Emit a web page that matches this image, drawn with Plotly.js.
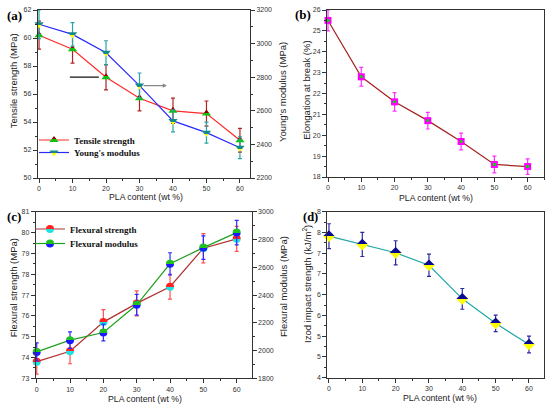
<!DOCTYPE html>
<html>
<head>
<meta charset="utf-8">
<script src="https://cdn.plot.ly/plotly-3.0.1.min.js"></script>
<style>html,body{margin:0;padding:0;background:#fff;}#chart{width:550px;height:407px;}</style>
</head>
<body>
<div id="chart"></div>
<script>
// ---- data ----
var pla = [0, 10, 20, 30, 40, 50, 60];
var tensileStrength = [60.2, 59.2, 57.2, 55.7, 54.8, 54.6, 52.7];
var tensileErr = [1.0, 1.0, 0.9, 0.9, 0.9, 0.9, 0.85];
var youngsModulus = [3115, 3055, 2945, 2750, 2540, 2470, 2380];
var youngsErr = [85, 70, 72, 75, 65, 62, 65];
var elongation = [25.5, 22.8, 21.6, 20.7, 19.7, 18.6, 18.5];
var elongErr = [0.5, 0.45, 0.44, 0.4, 0.4, 0.4, 0.37];
var flexStrength = [73.8, 74.3, 75.7, 76.6, 77.4, 79.25, 79.7];
var flexStrengthErr = [0.6, 0.6, 0.6, 0.6, 0.6, 0.7, 0.6];
var flexModulus = [1990, 2075, 2130, 2330, 2625, 2742, 2850];
var flexModulusErr = [65, 60, 60, 75, 80, 85, 88];
var impact = [7.41, 7.21, 7.01, 6.71, 5.90, 5.31, 4.80];
var impactErr = [0.3, 0.29, 0.29, 0.27, 0.25, 0.2, 0.2];
var impactTickVals = [4, 4.5, 5, 5.5, 6, 6.5, 7, 7.5, 8];
var impactTickText = ["4", "5", "5", "6", "6", "7", "7", "8", "8"];

var W = 550, H = 407;
function px(x) { return x / W; }
function py(y) { return 1 - y / H; }

function err(arr, color) {
  return {type: 'data', array: arr, visible: true, color: color, thickness: 1.2, width: 2};
}

var traces = [
  {x: pla, y: tensileStrength, xaxis: 'x', yaxis: 'y', mode: 'lines+markers', name: 'Tensile strength',
   legend: 'legend', cliponaxis: false,
   line: {color: '#ff2a2a', width: 1.2},
   marker: {symbol: 'triangle-up', size: 8, color: '#8b0000', gradient: {type: 'vertical', color: '#10c010'}, line: {width: 0}},
   error_y: err(tensileErr, '#b22222')},
  {x: pla, y: youngsModulus, xaxis: 'x', yaxis: 'y2', mode: 'lines+markers', name: "Young's modulus",
   legend: 'legend3', cliponaxis: false,
   line: {color: '#2a2aff', width: 1.2},
   marker: {symbol: 'triangle-down', size: 8, color: '#138a8a', gradient: {type: 'vertical', color: '#ffff00'}, line: {width: 0}},
   error_y: err(youngsErr, '#2aa5a5')},
  {x: pla, y: elongation, xaxis: 'x2', yaxis: 'y3', mode: 'lines+markers', showlegend: false, cliponaxis: false,
   line: {color: '#a52020', width: 1.2},
   marker: {symbol: 'square', size: 7, color: '#ff00ff', gradient: {type: 'radial', color: '#10d010'}, line: {width: 0}},
   error_y: err(elongErr, '#ff30ff')},
  {x: pla, y: flexStrength, xaxis: 'x3', yaxis: 'y4', mode: 'lines+markers', name: 'Flexural strength',
   legend: 'legend2', cliponaxis: false,
   line: {color: '#b03030', width: 1.2},
   marker: {symbol: 'circle', size: 8, color: '#ff2020', gradient: {type: 'vertical', color: '#20e0e0'}, line: {width: 0}},
   error_y: err(flexStrengthErr, '#ff5050')},
  {x: pla, y: flexModulus, xaxis: 'x3', yaxis: 'y5', mode: 'lines+markers', name: 'Flexural modulus',
   legend: 'legend4', cliponaxis: false,
   line: {color: '#20a020', width: 1.2},
   marker: {symbol: 'circle', size: 8, color: '#20c020', gradient: {type: 'vertical', color: '#1a1aff'}, line: {width: 0}},
   error_y: err(flexModulusErr, '#2a2aff')},
  {x: pla, y: impact, xaxis: 'x4', yaxis: 'y6', mode: 'lines+markers', showlegend: false, cliponaxis: false,
   line: {color: '#20a8a8', width: 1.2},
   marker: {symbol: 'diamond', size: 9, color: '#0a0a90', gradient: {type: 'vertical', color: '#ffff00'}, line: {width: 0}},
   error_y: err(impactErr, '#2a2aa5')}
];

var tickFont = {family: 'Liberation Sans, Arial, sans-serif', size: 7, color: '#333'};
function xax(domain, range, anchor) {
  return {domain: domain, range: range, anchor: anchor, dtick: 10, tick0: 0,
    ticks: 'outside', ticklen: 4, tickwidth: 1, tickcolor: '#333',
    minor: {dtick: 5, ticklen: 2, ticks: 'outside', tickcolor: '#333'},
    showline: true, linecolor: '#333', linewidth: 1, mirror: true,
    showgrid: false, zeroline: false, tickfont: tickFont, fixedrange: true};
}
function yax(domain, range, anchor, dtick, minor, mirror) {
  return {domain: domain, range: range, anchor: anchor, dtick: dtick,
    ticks: 'outside', ticklen: 4, tickwidth: 1, tickcolor: '#333',
    minor: {dtick: minor, ticklen: 2, ticks: 'outside', tickcolor: '#333'},
    showline: true, linecolor: '#333', linewidth: 1, mirror: mirror,
    showgrid: false, zeroline: false, tickfont: tickFont, fixedrange: true};
}

var dA = {x: [px(37.7), px(250)], y: [py(178), py(10)]};
var dB = {x: [px(327), px(544.3)], y: [py(177), py(10)]};
var dC = {x: [px(35.7), px(251.7)], y: [py(378.3), py(211.8)]};
var dD = {x: [px(327.3), px(544.3)], y: [py(377.7), py(211.7)]};

var y2 = yax(dA.y, [2200, 3200], 'x', 200, 100, false);
y2.overlaying = 'y'; y2.side = 'right';
var y5 = yax(dC.y, [1800, 3000], 'x3', 200, 100, false);
y5.overlaying = 'y4'; y5.side = 'right';
var y6 = yax(dD.y, [4, 8], 'x4', 0.5, 0.25, true);
y6.tickmode = 'array'; y6.tickvals = impactTickVals; y6.ticktext = impactTickText;
y6.minor = {tickmode: 'linear', tick0: 4, dtick: 0.25, ticklen: 2, ticks: 'outside', tickcolor: '#333'};

var titleFont = {family: 'Liberation Sans, Arial, sans-serif', size: 9.5, color: '#222'};
var xTitleFont = {family: 'Liberation Sans, Arial, sans-serif', size: 8.7, color: '#222'};
var panelFont = {family: 'Liberation Serif, Times New Roman, serif', size: 13, color: '#000', weight: 'bold'};
var panelFontD = {family: 'Liberation Serif, Times New Roman, serif', size: 12.5, color: '#000', weight: 'bold'};
var legFont = {family: 'Liberation Serif, Times New Roman, serif', size: 9, color: '#111', weight: 'bold'};

function ann(text, x, y, font, angle) {
  return {text: text, xref: 'paper', yref: 'paper', x: px(x), y: py(y), xanchor: 'center', yanchor: 'middle',
    showarrow: false, font: font, textangle: angle || 0};
}

var annotations = [
  ann('<b>(a)</b>', 14, 15, panelFont),
  ann('<b>(b)</b>', 303, 14.5, panelFont),
  ann('<b>(c)</b>', 14, 216.5, panelFont),
  ann('<b>(d)</b>', 310, 217, panelFontD),
  ann('Tensile strength (MPa)', 13.3, 81, titleFont, -90),
  ann("Young's modulus (MPa)", 283, 92, titleFont, -90),
  ann('Elongation at break (%)', 306.7, 90, titleFont, -90),
  ann('Flexural strength (MPa)', 13.3, 288, titleFont, -90),
  ann('Flexural modulus (MPa)', 283, 287, titleFont, -90),
  ann('Izod impact strength (kJ/m<sup>2</sup>)', 307, 284, titleFont, -90),
  ann('PLA content (wt %)', 146, 196.5, xTitleFont),
  ann('PLA content (wt %)', 436, 197.5, xTitleFont),
  ann('PLA content (wt %)', 145, 399, xTitleFont),
  ann('PLA content (wt %)', 440, 398, xTitleFont),
  // pointer arrows in panel (a)
  {text: '', xref: 'x', yref: 'y', axref: 'x', ayref: 'y', x: pla[1] - 0.8, y: tensileStrength[2], ax: pla[2] - 1.7, ay: tensileStrength[2],
   showarrow: true, arrowhead: 0, arrowwidth: 1.2, arrowcolor: '#111'},
  {text: '', xref: 'x', yref: 'y2', axref: 'x', ayref: 'y2', x: pla[4] - 1.8, y: youngsModulus[3], ax: pla[3] + 0.8, ay: youngsModulus[3],
   showarrow: true, arrowhead: 2, arrowsize: 0.7, arrowwidth: 1.2, arrowcolor: '#888'}
];

function leg(x, y) {
  return {x: px(x), y: py(y), xanchor: 'left', yanchor: 'middle', bgcolor: 'rgba(0,0,0,0)', font: legFont,
    tracegroupgap: 0, itemwidth: 30};
}

var layout = {
  width: W, height: H, margin: {l: 0, r: 0, t: 0, b: 0},
  paper_bgcolor: '#fff', plot_bgcolor: 'rgba(0,0,0,0)',
  showlegend: true,
  xaxis: xax(dA.x, [-0.4, 63], 'y'),
  yaxis: yax(dA.y, [50, 62], 'x', 2, 1, false),
  yaxis2: y2,
  xaxis2: xax(dB.x, [-0.3, 65], 'y3'),
  yaxis3: yax(dB.y, [18, 26], 'x2', 1, 0.5, true),
  xaxis3: xax(dC.x, [-0.3, 64.5], 'y4'),
  yaxis4: yax(dC.y, [73, 81], 'x3', 1, 0.5, false),
  yaxis5: y5,
  xaxis4: xax(dD.x, [-0.5, 64.6], 'y6'),
  yaxis6: y6,
  legend: leg(34, 140),
  legend3: leg(34, 152.5),
  legend2: leg(30, 229),
  legend4: leg(30, 243.5),
  annotations: annotations
};

Plotly.newPlot('chart', traces, layout, {staticPlot: true, displayModeBar: false}).then(function (gd) {
  // make the two-colour marker fills a sharp split instead of a soft blend
  var NS = 'http://www.w3.org/2000/svg';
  var grads = document.querySelectorAll('#chart linearGradient, #chart radialGradient');
  grads.forEach(function (g) {
    var stops = g.querySelectorAll('stop');
    if (stops.length < 2) return;
    var c1 = stops[0].getAttribute('stop-color'), c2 = stops[stops.length - 1].getAttribute('stop-color');
    var radial = g.tagName.toLowerCase().indexOf('radial') >= 0;
    var split = radial ? 45 : 50;
    while (g.firstChild) g.removeChild(g.firstChild);
    [[0, c1], [split, c1], [split, c2], [100, c2]].forEach(function (s) {
      var st = document.createElementNS(NS, 'stop');
      st.setAttribute('offset', s[0] + '%');
      st.setAttribute('stop-color', s[1]);
      st.setAttribute('stop-opacity', '1');
      g.appendChild(st);
    });
  });
});
</script>
</body>
</html>
